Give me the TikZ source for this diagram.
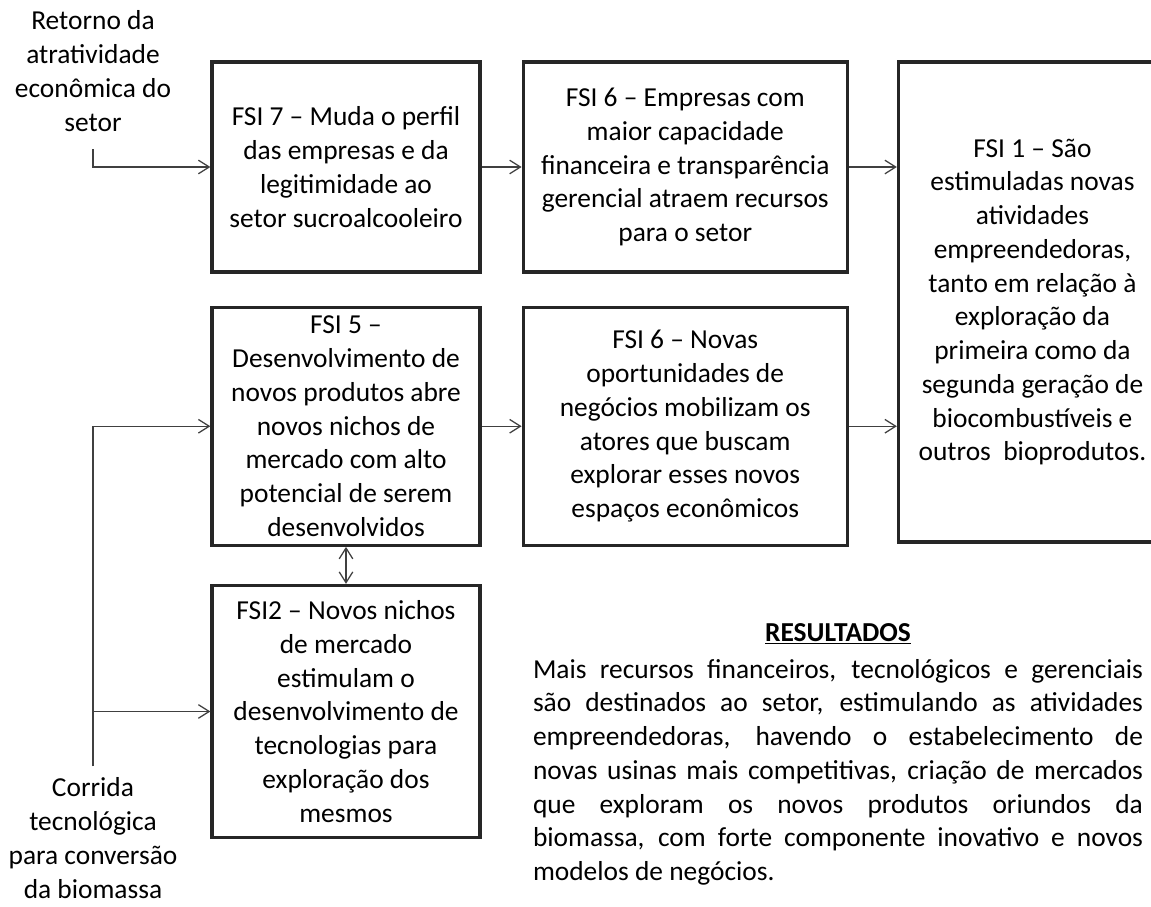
\documentclass[tikz,border=0pt]{standalone}
\usepackage{fontspec}
\setmainfont{Carlito}
\usepackage{tikz}
\usetikzlibrary{
  arrows.meta,
  positioning
}
\newcommand{\fsifont}{\fontsize{19.5}{24}\selectfont}
\tikzset{
  fsibox/.style={draw=black!85, line width=2.3pt, align=center,
    font=\fsifont, inner sep=2pt},
  drvlabel/.style={align=center, font=\fsifont, inner sep=0pt},
  arr/.style={-{Straight Barb[length=0.27cm, width=0.34cm]},
    line width=0.9pt, black!75},
  darr/.style={{Straight Barb[length=0.27cm, width=0.34cm]}-{Straight Barb[length=0.27cm, width=0.34cm]},
    line width=0.9pt, black!75},
}

\begin{document}
\begin{tikzpicture}[
  node distance=0.8cm and 1cm
]
  \useasboundingbox (0,0) rectangle (28.775,-22.65);

  % Top row
  \node[fsibox, minimum width=6.7cm, minimum height=5.25cm] (fsi7)
    at (8.65,-4.175)
    {FSI 7 -- Muda o perfil\\das empresas e da\\legitimidade ao\\setor sucroalcooleiro};
  \node[fsibox, minimum width=8.1cm, minimum height=5.25cm,
        right=of fsi7] (fsi6a)
    {FSI 6 -- Empresas com\\maior capacidade\\financeira e transparência\\gerencial atraem recursos\\para o setor};

  % Middle row
  \node[fsibox, minimum width=6.7cm, minimum height=5.95cm,
        below=of fsi7] (fsi5)
    {FSI 5 --\\Desenvolvimento de\\novos produtos abre\\novos nichos de\\mercado com alto\\potencial de serem\\desenvolvidos};
  \node[fsibox, minimum width=8.1cm, minimum height=5.95cm,
        right=of fsi5] (fsi6b)
    {FSI 6 -- Novas\\oportunidades de\\negócios mobilizam os\\atores que buscam\\explorar esses novos\\espaços econômicos};

  % Right column
  \node[fsibox, minimum width=6.7cm, minimum height=12cm,
        right=1.2cm of fsi6a.north east, anchor=north west] (fsi1)
    {FSI 1 -- São\\estimuladas novas\\atividades\\empreendedoras,\\tanto em relação à\\exploração da\\primeira como da\\segunda geração de\\biocombustíveis e\\outros\ \ bioprodutos.};

  % Bottom
  \node[fsibox, minimum width=6.7cm, minimum height=6.3cm,
        below=0.925cm of fsi5] (fsi2)
    {FSI2 -- Novos nichos\\de mercado\\estimulam o\\desenvolvimento de\\tecnologias para\\exploração dos\\mesmos};

  % Drivers
  \node[drvlabel] (retorno) at (2.325,-1.775)
    {Retorno da\\atratividade\\econômica do\\setor};
  \node[drvlabel] (corrida) at (2.325,-20.95)
    {Corrida\\tecnológica\\para conversão\\da biomassa};
  \coordinate (rbot) at (2.325,-3.725);
  \coordinate (cbot) at (2.325,-19.15);

  % Results
  \node[drvlabel, font=\fsifont\bfseries] (res) at (20.95,-15.85)
    {\underline{RESULTADOS}};
  \node[font=\fsifont, text width=15.25cm, align=justify, inner sep=0pt,
        below=0.35cm of res] (restxt)
    {\hyphenpenalty=10000
     Mais recursos financeiros, tecnológicos e gerenciais\linebreak
     são destinados ao setor, estimulando as atividades\linebreak
     empreendedoras, havendo o estabelecimento de\linebreak
     novas usinas mais competitivas, criação de mercados\linebreak
     que exploram os novos produtos oriundos da\linebreak
     biomassa, com forte componente inovativo e novos\linebreak
     modelos de negócios.};

  % Arrows
  \draw[arr] (rbot) |- (fsi7);
  \draw[arr] (fsi7) -- (fsi6a);
  \draw[arr] (fsi6a.east) -- (fsi6a.east -| fsi1.west);
  \draw[arr] (cbot) |- (fsi5);
  \draw[arr] (cbot) |- (fsi2);
  \draw[arr] (fsi5) -- (fsi6b);
  \draw[arr] (fsi6b.east) -- (fsi6b.east -| fsi1.west);
  \draw[darr] (fsi5) -- (fsi2);
\end{tikzpicture}
\end{document}
